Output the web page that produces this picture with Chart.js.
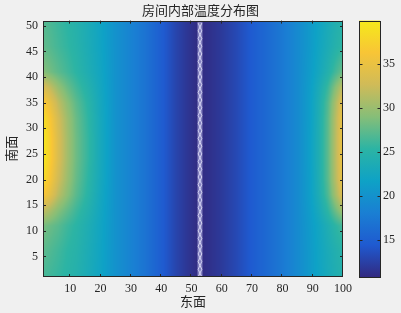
<!DOCTYPE html>
<html>
<head>
<meta charset="utf-8">
<script src="https://cdn.jsdelivr.net/npm/chart.js@4.4.1/dist/chart.umd.min.js"></script>
<style>
  html, body { margin: 0; background: #f0f0f0; }
  #wrap { position: relative; width: 401px; height: 313px; }
</style>
</head>
<body>
<div id="wrap"><canvas id="heat" width="401" height="313"></canvas></div>
<script>
// grid (x = 东面, y = 南面, temperature in each sample)
const xCols = [1, 3, 6, 9, 12, 16, 20, 25, 30, 35, 40, 45, 49, 52.5, 56, 60, 65, 70, 75, 80, 85, 89, 92, 95, 97.5, 100];
const yRows = [1, 6, 11, 14, 17, 20, 24, 28, 32, 35, 38, 41, 46, 51];
const temps = [
  [26.5, 26.2, 25.7, 25.1, 24.5, 23.3, 22.0, 20.0, 18.5, 16.8, 14.8, 12.8, 11.6, 10.8, 11.3, 12.0, 13.2, 14.6, 16.0, 17.5, 19.2, 20.8, 22.0, 23.1, 23.9, 24.5],
  [27.3, 26.9, 26.2, 25.4, 24.8, 23.5, 22.1, 20.0, 18.5, 16.8, 14.8, 12.8, 11.6, 10.8, 11.3, 12.0, 13.2, 14.6, 16.0, 17.5, 19.2, 20.8, 22.1, 23.3, 24.2, 25.0],
  [28.5, 28.0, 27.2, 26.1, 25.2, 23.8, 22.2, 20.0, 18.5, 16.8, 14.8, 12.8, 11.6, 10.8, 11.3, 12.0, 13.2, 14.6, 16.0, 17.5, 19.2, 20.9, 22.3, 23.9, 25.3, 26.5],
  [32.0, 31.0, 29.1, 27.6, 26.1, 24.4, 22.4, 20.0, 18.5, 16.8, 14.8, 12.8, 11.6, 10.8, 11.3, 12.0, 13.2, 14.6, 16.0, 17.5, 19.2, 21.1, 23.0, 25.4, 28.0, 30.5],
  [36.5, 34.8, 31.6, 29.3, 27.2, 25.0, 22.6, 20.0, 18.5, 16.8, 14.8, 12.8, 11.6, 10.8, 11.3, 12.0, 13.2, 14.6, 16.0, 17.5, 19.2, 21.3, 23.6, 26.7, 30.4, 34.0],
  [38.5, 36.5, 32.8, 30.1, 27.7, 25.3, 22.8, 20.0, 18.5, 16.8, 14.8, 12.8, 11.6, 10.8, 11.3, 12.0, 13.2, 14.6, 16.0, 17.5, 19.2, 21.3, 23.8, 27.2, 31.2, 35.2],
  [39.8, 37.5, 33.5, 30.5, 28.0, 25.6, 22.9, 20.0, 18.5, 16.8, 14.8, 12.8, 11.6, 10.8, 11.3, 12.0, 13.2, 14.6, 16.0, 17.5, 19.2, 21.4, 23.9, 27.3, 31.4, 35.5],
  [39.8, 37.5, 33.5, 30.5, 28.0, 25.6, 22.9, 20.0, 18.5, 16.8, 14.8, 12.8, 11.6, 10.8, 11.3, 12.0, 13.2, 14.6, 16.0, 17.5, 19.2, 21.4, 23.9, 27.3, 31.4, 35.5],
  [38.8, 36.8, 33.0, 30.2, 27.8, 25.4, 22.8, 20.0, 18.5, 16.8, 14.8, 12.8, 11.6, 10.8, 11.3, 12.0, 13.2, 14.6, 16.0, 17.5, 19.2, 21.3, 23.8, 27.2, 31.3, 35.3],
  [37.0, 35.2, 31.9, 29.4, 27.3, 25.1, 22.7, 20.0, 18.5, 16.8, 14.8, 12.8, 11.6, 10.8, 11.3, 12.0, 13.2, 14.6, 16.0, 17.5, 19.2, 21.3, 23.7, 26.9, 30.7, 34.5],
  [33.5, 32.3, 29.8, 27.9, 26.3, 24.5, 22.5, 20.0, 18.5, 16.8, 14.8, 12.8, 11.6, 10.8, 11.3, 12.0, 13.2, 14.6, 16.0, 17.5, 19.2, 21.2, 23.3, 25.9, 29.0, 32.0],
  [29.0, 28.4, 27.3, 26.3, 25.3, 23.8, 22.3, 20.0, 18.5, 16.8, 14.8, 12.8, 11.6, 10.8, 11.3, 12.0, 13.2, 14.6, 16.0, 17.5, 19.2, 21.0, 22.6, 24.4, 26.3, 28.0],
  [27.5, 27.1, 26.3, 25.6, 24.8, 23.5, 22.1, 20.0, 18.5, 16.8, 14.8, 12.8, 11.6, 10.8, 11.3, 12.0, 13.2, 14.6, 16.0, 17.5, 19.2, 20.8, 22.2, 23.5, 24.6, 25.5],
  [27.0, 26.7, 26.0, 25.3, 24.6, 23.4, 22.0, 20.0, 18.5, 16.8, 14.8, 12.8, 11.6, 10.8, 11.3, 12.0, 13.2, 14.6, 16.0, 17.5, 19.2, 20.8, 22.0, 23.2, 24.1, 24.8]
];

// the twisted white seam near the coldest column
const ropeY = [1, 2.5, 4, 5.5, 7, 8.5, 10, 11.5, 13, 14.5, 16, 17.5, 19, 20.5, 22, 23.5, 25, 26.5, 28, 29.5, 31, 32.5, 34, 35.5, 37, 38.5, 40, 41.5, 43, 44.5, 46, 47.5, 49, 50.5];
const ropeA = [52.2, 53.4, 52.2, 53.4, 52.2, 53.4, 52.2, 53.4, 52.2, 53.4, 52.2, 53.4, 52.2, 53.4, 52.2, 53.4, 52.2, 53.4, 52.2, 53.4, 52.2, 53.4, 52.2, 53.4, 52.2, 53.4, 52.2, 53.4, 52.2, 53.4, 52.2, 53.4, 52.2, 53.4];
const ropeB = [53.4, 52.2, 53.4, 52.2, 53.4, 52.2, 53.4, 52.2, 53.4, 52.2, 53.4, 52.2, 53.4, 52.2, 53.4, 52.2, 53.4, 52.2, 53.4, 52.2, 53.4, 52.2, 53.4, 52.2, 53.4, 52.2, 53.4, 52.2, 53.4, 52.2, 53.4, 52.2, 53.4, 52.2];
const ropeMid = 52.8;
const ropeEnds = [1, 51];

const xTicks = [10, 20, 30, 40, 50, 60, 70, 80, 90, 100];
const yTicks = [5, 10, 15, 20, 25, 30, 35, 40, 45, 50];
const cTicks = [15, 20, 25, 30, 35];
const cMin = 10.8;
const cMax = 39.9;

const parula = ['#322a80', '#1f5ad0', '#1a7fd3', '#0ea2c6', '#2cb4a4', '#86be78', '#d0bb58', '#f8c536', '#f5ea1a'];
const stops = parula.map(h => [parseInt(h.slice(1, 3), 16), parseInt(h.slice(3, 5), 16), parseInt(h.slice(5, 7), 16)]);

function colorOf(v) {
  let t = (v - cMin) / (cMax - cMin);
  t = Math.max(0, Math.min(1, t)) * (stops.length - 1);
  const i = Math.min(stops.length - 2, Math.floor(t));
  const f = t - i;
  const a = stops[i], b = stops[i + 1];
  return [a[0] + (b[0] - a[0]) * f, a[1] + (b[1] - a[1]) * f, a[2] + (b[2] - a[2]) * f];
}

function locate(arr, v) {
  let i = 0;
  while (i < arr.length - 2 && v > arr[i + 1]) i++;
  let f = (v - arr[i]) / (arr[i + 1] - arr[i]);
  return [i, Math.max(0, Math.min(1, f))];
}

function sample(xv, yv) {
  const [i, fx] = locate(xCols, xv);
  const [j, fy] = locate(yRows, yv);
  const a = temps[j][i], b = temps[j][i + 1], c = temps[j + 1][i], d = temps[j + 1][i + 1];
  return (a * (1 - fx) + b * fx) * (1 - fy) + (c * (1 - fx) + d * fx) * fy;
}

const ink = '#262626';
Chart.defaults.font.family = "'Liberation Serif', 'Noto Sans CJK SC', serif";
Chart.defaults.font.size = 12;
Chart.defaults.color = ink;

const heatPlugin = {
  id: 'heat',
  beforeDatasetsDraw(chart) {
    const { ctx, chartArea: a, scales } = chart;
    const w = Math.round(a.right - a.left), h = Math.round(a.bottom - a.top);
    const off = document.createElement('canvas');
    off.width = w; off.height = h;
    const octx = off.getContext('2d');
    const img = octx.createImageData(w, h);
    for (let py = 0; py < h; py++) {
      const yv = scales.y.getValueForPixel(a.top + py + 0.5);
      for (let px = 0; px < w; px++) {
        const xv = scales.x.getValueForPixel(a.left + px + 0.5);
        const col = colorOf(sample(xv, yv));
        const k = (py * w + px) * 4;
        img.data[k] = col[0]; img.data[k + 1] = col[1]; img.data[k + 2] = col[2]; img.data[k + 3] = 255;
      }
    }
    octx.putImageData(img, 0, 0);
    ctx.drawImage(off, a.left, a.top, w, h);

    // colorbar beside the plot
    const cs = scales.c;
    const bx = cs.left + 16, bw = 21;
    const top = cs.getPixelForValue(cMax), bot = cs.getPixelForValue(cMin);
    const g = ctx.createLinearGradient(0, bot, 0, top);
    parula.forEach((c, i) => g.addColorStop(i / (parula.length - 1), c));
    ctx.fillStyle = g;
    ctx.fillRect(bx, top, bw, bot - top);
    ctx.strokeStyle = ink;
    ctx.lineWidth = 1;
    ctx.strokeRect(bx + 0.5, Math.round(top) + 0.5, bw, Math.round(bot - top));
    ctx.beginPath();
    cTicks.forEach(v => {
      const y = Math.round(cs.getPixelForValue(v)) + 0.5;
      ctx.moveTo(bx + bw + 0.5, y); ctx.lineTo(bx + bw - 2.5, y);
      ctx.moveTo(bx + 0.5, y); ctx.lineTo(bx + 3.5, y);
    });
    ctx.stroke();
  },
  afterDatasetsDraw(chart) {
    const { ctx, chartArea: a, scales } = chart;
    ctx.save();
    ctx.strokeStyle = ink;
    ctx.lineWidth = 1;
    ctx.strokeRect(Math.round(a.left) + 0.5, Math.round(a.top) + 0.5, Math.round(a.right - a.left) - 1, Math.round(a.bottom - a.top) - 1);
    ctx.beginPath();
    xTicks.forEach(v => {
      const x = Math.round(scales.x.getPixelForValue(v)) - 0.5;
      ctx.moveTo(x, a.bottom); ctx.lineTo(x, a.bottom - 3);
      ctx.moveTo(x, a.top); ctx.lineTo(x, a.top + 3);
    });
    yTicks.forEach(v => {
      const y = Math.round(scales.y.getPixelForValue(v)) + 0.5;
      ctx.moveTo(a.left, y); ctx.lineTo(a.left + 3, y);
      ctx.moveTo(a.right, y); ctx.lineTo(a.right - 3, y);
    });
    ctx.stroke();
    ctx.restore();
  }
};

const ropeLine = (xs) => ropeY.map((y, i) => ({ x: xs[i], y }));

new Chart(document.getElementById('heat'), {
  type: 'scatter',
  data: {
    datasets: [
      { data: ropeEnds.map(y => ({ x: ropeMid, y })), showLine: true, borderColor: 'rgba(196,196,240,0.55)', borderWidth: 5, pointRadius: 0 },
      { data: ropeLine(ropeA), showLine: true, borderColor: 'rgba(255,255,255,0.9)', borderWidth: 1, pointRadius: 0 },
      { data: ropeLine(ropeB), showLine: true, borderColor: 'rgba(236,236,255,0.9)', borderWidth: 1, pointRadius: 0 }
    ]
  },
  options: {
    responsive: false,
    animation: false,
    devicePixelRatio: 1,
    layout: { padding: 0, autoPadding: false },
    plugins: {
      legend: { display: false },
      tooltip: { enabled: false },
      title: {
        display: true,
        text: '房间内部温度分布图',
        color: ink,
        font: { size: 13, weight: 'normal' },
        padding: { top: 4, bottom: 1 }
      }
    },
    scales: {
      x: {
        type: 'linear', position: 'bottom', min: 1, max: 100,
        grid: { display: false, drawTicks: false },
        border: { display: false },
        ticks: { padding: 5, maxRotation: 0 },
        afterBuildTicks: s => { s.ticks = xTicks.map(v => ({ value: v })); },
        afterFit: s => { s.height = 36; },
        title: { display: true, text: '东面', font: { size: 13 }, padding: { top: 0, bottom: 3 } }
      },
      y: {
        type: 'linear', position: 'left', min: 1, max: 51,
        grid: { display: false, drawTicks: false },
        border: { display: false },
        ticks: { padding: 5 },
        afterBuildTicks: s => { s.ticks = yTicks.map(v => ({ value: v })); },
        afterFit: s => { s.width = 43; },
        title: { display: true, text: '南面', font: { size: 13 }, padding: { top: 5, bottom: 0 } }
      },
      c: {
        type: 'linear', position: 'right', min: cMin, max: cMax,
        grid: { display: false, drawTicks: true, tickLength: 37 },
        border: { display: false },
        ticks: { padding: 3 },
        afterBuildTicks: s => { s.ticks = cTicks.map(v => ({ value: v })); },
        afterFit: s => { s.width = 58; }
      }
    }
  },
  plugins: [heatPlugin]
});
</script>
</body>
</html>
